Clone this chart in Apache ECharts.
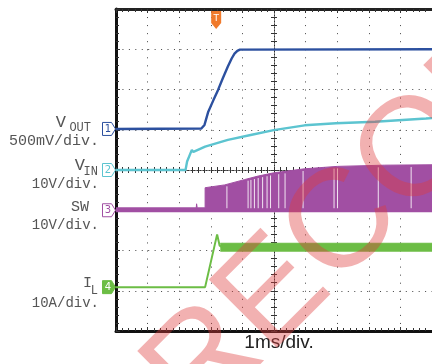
<!DOCTYPE html>
<html><head><meta charset="utf-8">
<script src="https://cdn.jsdelivr.net/npm/echarts@6/dist/echarts.min.js"></script>
<style>html,body{margin:0;padding:0;background:#fff}#c{width:432px;height:364px}</style>
</head><body><div id="c"></div>
<script>
// Horizontal: time in ms (1 ms/div, 10 div). Vertical: screen divisions (0 = bottom, 8 = top).
const voutT = [0, 2.70, 2.80, 2.92, 3.08, 3.23, 3.38, 3.54, 3.66, 3.75, 3.84, 3.92, 10];
const voutD = [5.02, 5.03, 5.12, 5.45, 5.73, 5.99, 6.28, 6.57, 6.77, 6.89, 6.96, 6.99, 7.0];
const vinT  = [0, 2.20, 2.25, 2.40, 2.45, 2.82, 3.54, 4.26, 4.99, 5.97, 6.96, 8.20, 9.81, 10];
const vinD  = [4.00, 4.00, 4.21, 4.50, 4.45, 4.58, 4.75, 4.87, 4.99, 5.11, 5.16, 5.20, 5.28, 5.29];
const swT   = [0, 2.54, 2.55, 2.57, 2.82, 2.82, 3.44, 4.06, 4.50, 4.99, 5.97, 7.00, 8.50, 10];
const swTop = [3.06, 3.06, 3.16, 3.06, 3.06, 3.56, 3.63, 3.76, 3.85, 3.93, 4.03, 4.09, 4.12, 4.13];
const swFloor = 2.95;
const swGaps = [3.51, 4.18, 4.27, 4.38, 4.50, 4.64, 4.78, 4.89, 5.15, 5.35, 5.92, 6.90, 7.01, 8.30, 9.34];
const ilT   = [0, 2.82, 3.20, 3.28, 3.36];
const ilD   = [1.09, 1.09, 2.40, 2.12, 2.08];
const ilRippleT = [3.30, 10];
const ilRippleHi = [2.18, 2.18];
const ilRippleLo = 1.97;
const chanLevels = [5.02, 4.00, 3.00, 1.09];
const chanNames = ['1', '2', '3', '4'];
const trigTime = 3.17;
const colors = { vout: '#2c509f', vin: '#5cc4d0', sw: '#a14fa3', il: '#6cbd45', trig: '#f07a2c' };

const zip = (a, b) => a.map((v, i) => [v, Array.isArray(b) ? b[i] : b]);
function interp(xs, ys, x) {
  for (let i = 1; i < xs.length; i++) if (x <= xs[i]) {
    const a = xs[i - 1], b = xs[i];
    return b === a ? ys[i] : ys[i - 1] + (ys[i] - ys[i - 1]) * (x - a) / (b - a);
  }
  return ys[ys.length - 1];
}
const chanPath = 'path://M0,0 L9,0 L13,6 L9,12 L0,12 Z';
function chanMark(i, color, filled) {
  return {
    coord: [0, chanLevels[i]], symbol: chanPath, symbolSize: [13, 13], symbolOffset: [-7, 0],
    itemStyle: { color: filled ? color : '#fff', borderColor: color, borderWidth: 1 },
    label: { show: true, formatter: chanNames[i], color: filled ? '#fff' : color, fontSize: 10, fontFamily: 'DejaVu Sans', offset: [-1, 0] }
  };
}
const rect = { left: 116, top: 9, width: 322, height: 322 };
const dotsX = [1, 7.05], dotsY = [1, 5.44];
const chart = echarts.init(document.getElementById('c'), null, { renderer: 'canvas' });
const monoFont = 'Liberation Mono';
const txt = (x, y, s, size) => ({ type: 'text', x, y, style: { text: s, fill: '#555', font: size + 'px "' + monoFont + '"', textAlign: 'right', textVerticalAlign: 'middle' } });
const crossX = (gi, inside) => ({ type: 'value', gridIndex: gi, min: -5, max: 5, interval: 1,
  axisLine: { onZero: true, lineStyle: { color: '#333', width: 1, type: [1, 2] } },
  axisTick: { show: true, inside, length: 3, lineStyle: { color: '#333' } },
  minorTick: { show: true, splitNumber: 5, length: 3, lineStyle: { color: '#333' } },
  axisLabel: { show: false }, splitLine: { show: false } });
const crossY = (gi, inside) => ({ type: 'value', gridIndex: gi, min: -4, max: 4, interval: 1,
  axisLine: { onZero: true, lineStyle: { color: '#333', width: 1, type: [1, 2] } },
  axisTick: { show: true, inside, length: 3, lineStyle: { color: '#333' } },
  minorTick: { show: true, splitNumber: 5, length: 3, lineStyle: { color: '#333' } },
  axisLabel: { show: false }, splitLine: { show: false } });

chart.setOption({
  animation: false,
  backgroundColor: '#fff',
  grid: [Object.assign({}, rect), Object.assign({}, rect), Object.assign({}, rect)],
  xAxis: [
    { type: 'value', gridIndex: 0, min: 0, max: 10, interval: 1, position: 'bottom',
      axisLine: { onZero: false, lineStyle: { color: '#111', width: 3 } },
      axisTick: { inside: true, length: 4, lineStyle: { color: '#333' } },
      minorTick: { show: true, splitNumber: 5, length: 3, lineStyle: { color: '#333' } },
      axisLabel: { show: false },
      splitLine: { show: true, lineStyle: { color: '#444', width: 1, type: dotsX } } },
    { type: 'value', gridIndex: 0, min: 0, max: 10, interval: 1, position: 'top',
      axisLine: { onZero: false, lineStyle: { color: '#222', width: 3 } },
      axisTick: { inside: true, length: 4, lineStyle: { color: '#333' } },
      minorTick: { show: true, splitNumber: 5, length: 3, lineStyle: { color: '#333' } },
      axisLabel: { show: false }, splitLine: { show: false } },
    crossX(1, false), crossX(2, true)
  ],
  yAxis: [
    { type: 'value', gridIndex: 0, min: 0, max: 8, interval: 1, position: 'left',
      axisLine: { onZero: false, lineStyle: { color: '#111', width: 3 } },
      axisTick: { inside: true, length: 4, lineStyle: { color: '#333' } },
      minorTick: { show: true, splitNumber: 5, length: 3, lineStyle: { color: '#333' } },
      axisLabel: { show: false },
      splitLine: { show: true, lineStyle: { color: '#444', width: 1, type: dotsY } } },
    crossY(1, false), crossY(2, true)
  ],
  series: [
    { name: 'VOUT', type: 'line', xAxisIndex: 0, yAxisIndex: 0, data: zip(voutT, voutD), showSymbol: false,
      lineStyle: { color: colors.vout, width: 2.4 }, z: 5,
      markPoint: { silent: true, data: [
        chanMark(0, colors.vout, false),
        { coord: [trigTime, 8], symbol: 'path://M0,0 L10,0 L10,12 L5,18 L0,12 Z', symbolSize: [10, 18], symbolOffset: [0, 11],
          itemStyle: { color: colors.trig }, label: { show: true, formatter: 'T', color: '#fff', fontSize: 9, fontFamily: 'DejaVu Sans', offset: [0, -1] } }
      ] } },
    { name: 'VIN', type: 'line', data: zip(vinT, vinD), showSymbol: false,
      lineStyle: { color: colors.vin, width: 2.4 }, z: 4,
      markPoint: { silent: true, data: [chanMark(1, colors.vin, false)] } },
    { name: 'SW', type: 'line', data: zip(swT, swTop), showSymbol: false,
      lineStyle: { color: colors.sw, width: 1 }, areaStyle: { color: colors.sw, opacity: 1, origin: swFloor }, z: 3,
      markPoint: { silent: true, data: [chanMark(2, colors.sw, false)] } },
    { name: 'SW gaps', type: 'custom', data: swGaps.map(t => [t, swFloor]), z: 3.5, silent: true,
      renderItem: (params, api) => {
        const t = api.value(0);
        const top = interp(swT, swTop, t);
        const p0 = api.coord([t, swFloor + 0.1]);
        const p1 = api.coord([t, top - 0.05]);
        return { type: 'line', shape: { x1: p0[0], y1: p0[1], x2: p1[0], y2: p1[1] }, style: { stroke: '#fff', lineWidth: 1, opacity: 0.85 } };
      } },
    { name: 'IL', type: 'line', data: zip(ilT, ilD), showSymbol: false,
      lineStyle: { color: colors.il, width: 2 }, z: 4,
      markPoint: { silent: true, data: [chanMark(3, colors.il, true)] } },
    { name: 'IL ripple', type: 'line', data: zip(ilRippleT, ilRippleHi), showSymbol: false,
      lineStyle: { color: colors.il, width: 1 }, areaStyle: { color: colors.il, opacity: 1, origin: ilRippleLo }, z: 4 }
  ],
  graphic: [
    txt(66, 122, 'V', 17), txt(91, 128, 'OUT', 12), txt(99, 141, '500mV/div.', 15),
    txt(85, 165, 'V', 17), txt(98, 172, 'IN', 12), txt(99, 184, '10V/div.', 14),
    txt(89, 207, 'SW', 15), txt(99, 225, '10V/div.', 14),
    txt(92, 283, 'I', 15), txt(98, 291, 'L', 12), txt(99, 303, '10A/div.', 14),
    { type: 'text', x: 279, y: 343, style: { text: '1ms/div.', fill: '#222', font: '19px "Liberation Sans"', textAlign: 'center', textVerticalAlign: 'middle' } },
    { type: 'text', x: 170, y: 400, rotation: Math.PI / 4, z: 100, silent: true,
      style: { text: 'RECOMMENDED', fill: 'rgba(222,60,60,0.4)', font: '140px "Liberation Sans"', textAlign: 'left', textVerticalAlign: 'middle' } }
  ]
});
</script></body></html>
